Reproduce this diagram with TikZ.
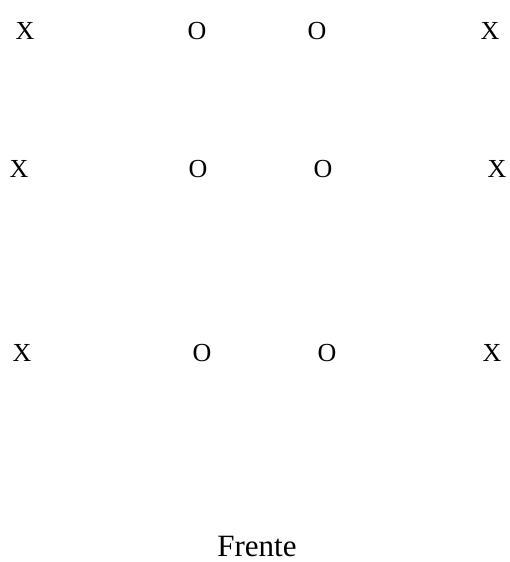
\documentclass[tikz,border=0pt]{standalone}
\usepackage{fontspec}
\setmainfont{Liberation Serif}
\tikzstyle{seat}      = [inner sep=0pt, font=\fontsize{26}{26}\selectfont]
\tikzstyle{frontname} = [inner sep=0pt, font=\fontsize{31}{31}\selectfont]

\begin{document}
\begin{tikzpicture}[x=1pt, y=-1pt]
  \useasboundingbox (0,0) rectangle (510,562);

  % Back row
  \node (x11) [seat] at (25,  31)  {X};
  \node (o12) [seat] at (197, 31)  {O};
  \node (o13) [seat] at (317, 31)  {O};
  \node (x14) [seat] at (490, 31)  {X};

  % Middle row
  \node (x21) [seat] at (19,  169) {X};
  \node (o22) [seat] at (198, 169) {O};
  \node (o23) [seat] at (323, 169) {O};
  \node (x24) [seat] at (497, 169) {X};

  % Front row
  \node (x31) [seat] at (22,  353) {X};
  \node (o32) [seat] at (202, 353) {O};
  \node (o33) [seat] at (327, 353) {O};
  \node (x34) [seat] at (492, 353) {X};

  % Front
  \node (front) [frontname] at (257, 546) {Frente};

\end{tikzpicture}
\end{document}
